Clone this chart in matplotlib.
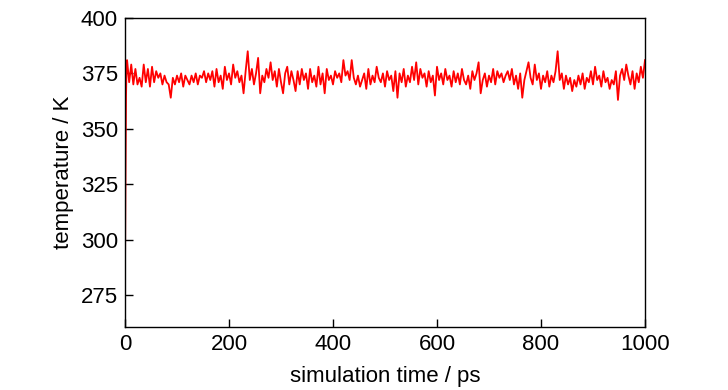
import numpy as np
import matplotlib
matplotlib.use("Agg")
import matplotlib.pyplot as plt

# initial ramp (ps, K)
ramp_time = [0, 1, 2, 3]
ramp_temp = [284, 330, 365, 378]

# sampled every 4 ps from 4 to 1000 ps
temp_seg1 = [381, 371, 379, 370, 377, 370, 373, 369, 379, 371,
             377, 369, 378, 371, 376, 373, 375, 370, 374, 371,
             370, 364, 373, 370, 374, 371, 375, 369, 374, 372,
             370, 374, 371, 375, 370, 374, 373, 376, 371, 375]
temp_seg2 = [372, 376, 369, 377, 371, 374, 368, 378, 372, 375,
             370, 379, 373, 376, 371, 374, 366, 376, 385, 372,
             377, 370, 375, 382, 366, 374, 371, 377, 373, 380,
             372, 376, 369, 377, 371, 366, 375, 378, 370, 376, 372]
temp_seg3 = [367, 376, 370, 377, 372, 375, 368, 377, 371, 374,
             369, 378, 370, 375, 366, 377, 372, 374, 370, 376,
             373, 375, 371, 381, 374, 376, 372, 381, 373, 370,
             374, 369, 372, 375, 368, 377, 370, 374, 371, 378, 373]
temp_seg4 = [371, 375, 369, 376, 372, 374, 367, 376, 364, 375,
             371, 377, 369, 374, 371, 378, 372, 380, 370, 377,
             373, 375, 369, 376, 371, 374, 365, 378, 372, 375,
             370, 377, 372, 374, 369, 376, 371, 375, 370, 377, 372]
temp_seg5 = [370, 374, 368, 376, 372, 375, 380, 366, 372, 375,
             369, 374, 371, 377, 370, 376, 373, 375, 371, 374,
             376, 372, 377, 370, 374, 368, 375, 364, 372, 376,
             380, 373, 370, 379, 372, 375, 368, 374, 371, 376,
             369, 374, 371]
temp_seg6 = [376, 385, 372, 375, 368, 374, 370, 373, 367, 372,
             369, 374, 370, 375, 368, 373, 371, 376, 370, 378,
             372, 374, 369, 376, 371, 373, 368, 372, 370, 376,
             363, 374, 377, 372, 379, 374, 370, 376, 368, 375,
             371, 378, 373, 381]

main_temp = temp_seg1 + temp_seg2 + temp_seg3 + temp_seg4 + temp_seg5 + temp_seg6
main_time = list(range(4, 4 * len(main_temp) + 1, 4))

time_ps = ramp_time + main_time
temperature = ramp_temp + main_temp

x_ticks = [0, 200, 400, 600, 800, 1000]
y_ticks = [275, 300, 325, 350, 375, 400]

plt.rcParams['font.family'] = ['Liberation Sans Narrow', 'Liberation Sans', 'DejaVu Sans']

fig = plt.figure(figsize=(7.28, 3.9), dpi=100)
ax = fig.add_axes([125 / 728, 63 / 390, 520 / 728, 309 / 390])
ax.plot(time_ps, temperature, color='#ff0000', lw=1.3)
ax.set_xlim(0, 1000)
ax.set_ylim(260.5, 400)
ax.set_xticks(x_ticks)
ax.set_yticks(y_ticks)
ax.tick_params(direction='in', length=6, width=1.0, labelsize=16, pad=5,
               top=False, right=False)
for s in ax.spines.values():
    s.set_linewidth(1.0)
ax.set_xlabel('simulation time / ps', fontsize=16, labelpad=8)
ax.set_ylabel('temperature / K', fontsize=16, labelpad=5)
fig.savefig('out.png', dpi=100)
